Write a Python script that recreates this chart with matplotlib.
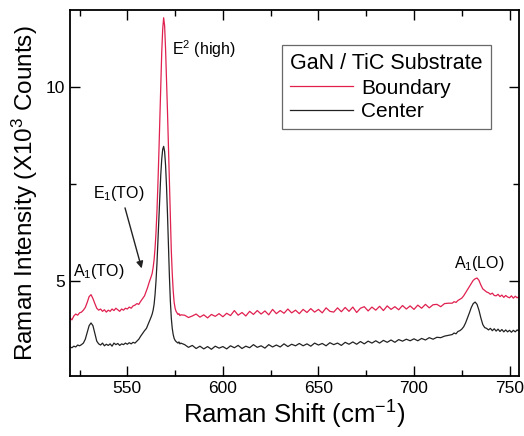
import numpy as np
import matplotlib
matplotlib.use('Agg')
import matplotlib.pyplot as plt
from matplotlib.ticker import MultipleLocator

plt.rcParams['font.family'] = ['Liberation Sans', 'DejaVu Sans']
plt.rcParams['mathtext.fontset'] = 'custom'
plt.rcParams['mathtext.rm'] = 'Liberation Sans'
plt.rcParams['mathtext.it'] = 'Liberation Sans:italic'
plt.rcParams['mathtext.bf'] = 'Liberation Sans:bold'

# Raman shift sampling (cm^-1): finer around the E2(high) peak
shift = np.concatenate([
    np.arange(520, 560, 1.0),      # 40 pts
    np.arange(560, 578.5, 0.5),    # 37 pts
    np.arange(580, 720, 2.0),      # 70 pts
    np.arange(720, 756, 1.0),      # 36 pts
])

# Boundary spectrum (x10^3 counts)
boundary_a = [4.05, 4.00, 4.10, 4.15, 4.12, 4.18, 4.20, 4.25, 4.32, 4.45,
              4.60, 4.65, 4.55, 4.42, 4.30, 4.25, 4.28, 4.22, 4.26, 4.20,
              4.25, 4.22, 4.28, 4.24, 4.30, 4.26, 4.22, 4.28, 4.25, 4.30,
              4.28, 4.33, 4.30, 4.36, 4.38, 4.42, 4.40, 4.48, 4.55, 4.62]
boundary_b = [4.75, 4.82, 4.90, 4.98, 5.05, 5.12, 5.20, 5.35, 5.55, 5.85,
              6.25, 6.80, 7.50, 8.30, 9.20, 10.10, 10.90, 11.50, 11.80, 11.60,
              11.00, 10.20, 9.40, 8.50, 7.50, 6.60, 5.80, 5.20, 4.75, 4.45,
              4.30, 4.22, 4.18, 4.14, 4.16, 4.11, 4.13]
boundary_c = [4.12, 4.06, 4.10, 4.15, 4.07, 4.13, 4.05, 4.14, 4.09, 4.16,
              4.08, 4.17, 4.11, 4.24, 4.12, 4.19, 4.10, 4.22, 4.14, 4.24,
              4.15, 4.23, 4.13, 4.27, 4.16, 4.24, 4.17, 4.28, 4.18, 4.25,
              4.16, 4.27, 4.19, 4.29, 4.20, 4.27, 4.18, 4.31, 4.22, 4.20,
              4.31, 4.21, 4.32, 4.22, 4.33, 4.19, 4.30, 4.34, 4.23, 4.33,
              4.25, 4.35, 4.24, 4.36, 4.27, 4.34, 4.26, 4.37, 4.28, 4.36,
              4.27, 4.38, 4.30, 4.40, 4.31, 4.39, 4.40, 4.34, 4.42, 4.43]
boundary_d = [4.43, 4.47, 4.45, 4.50, 4.53, 4.56, 4.62, 4.70, 4.78, 4.86,
              4.94, 5.02, 5.06, 5.08, 5.02, 4.90, 4.80, 4.76, 4.72, 4.70,
              4.66, 4.69, 4.63, 4.62, 4.66, 4.60, 4.64, 4.58, 4.63, 4.59,
              4.57, 4.62, 4.56, 4.61, 4.57, 4.60]

# Center spectrum (x10^3 counts)
center_a = [3.30, 3.28, 3.32, 3.30, 3.35, 3.33, 3.36, 3.40, 3.50, 3.68,
            3.85, 3.92, 3.85, 3.65, 3.45, 3.38, 3.35, 3.40, 3.33, 3.37,
            3.34, 3.38, 3.32, 3.40, 3.36, 3.39, 3.34, 3.38, 3.36, 3.40,
            3.37, 3.41, 3.38, 3.42, 3.40, 3.45, 3.50, 3.58, 3.65, 3.72]
center_b = [3.78, 3.84, 3.90, 3.96, 4.02, 4.08, 4.15, 4.25, 4.40, 4.65,
            5.00, 5.45, 6.00, 6.60, 7.20, 7.75, 8.15, 8.40, 8.48, 8.35,
            8.00, 7.45, 6.75, 5.95, 5.15, 4.50, 4.05, 3.78, 3.62, 3.52,
            3.47, 3.44, 3.42, 3.40, 3.43, 3.38, 3.40]
center_c = [3.36, 3.29, 3.34, 3.26, 3.32, 3.25, 3.31, 3.24, 3.32, 3.27,
            3.31, 3.25, 3.33, 3.28, 3.34, 3.26, 3.32, 3.28, 3.36, 3.29,
            3.33, 3.27, 3.36, 3.30, 3.35, 3.30, 3.38, 3.31, 3.37, 3.33,
            3.39, 3.33, 3.38, 3.32, 3.40, 3.35, 3.39, 3.33, 3.41, 3.36,
            3.40, 3.34, 3.42, 3.37, 3.43, 3.37, 3.44, 3.38, 3.45, 3.40,
            3.46, 3.40, 3.47, 3.42, 3.48, 3.42, 3.49, 3.45, 3.50, 3.46,
            3.51, 3.46, 3.52, 3.48, 3.54, 3.50, 3.55, 3.54, 3.58, 3.60]
center_d = [3.62, 3.66, 3.64, 3.70, 3.72, 3.76, 3.82, 3.92, 4.05, 4.18,
            4.32, 4.42, 4.46, 4.40, 4.25, 4.05, 3.88, 3.80, 3.78, 3.74,
            3.78, 3.72, 3.77, 3.71, 3.76, 3.70, 3.75, 3.69, 3.74, 3.69,
            3.73, 3.68, 3.73, 3.69, 3.74, 3.71]

boundary = np.array(boundary_a + boundary_b + boundary_c + boundary_d)
center = np.array(center_a + center_b + center_c + center_d)

fig = plt.figure(figsize=(5.24, 4.36), dpi=100)
ax = fig.add_axes([0.1336, 0.1376, 0.857, 0.8394])

ax.plot(shift, boundary, color='#e0204f', lw=0.9, label='Boundary')
ax.plot(shift, center, color='#222222', lw=0.9, label='Center')

ax.set_xlim(520, 755)
ax.set_ylim(2.55, 12.0)
ax.xaxis.set_major_locator(MultipleLocator(50))
ax.xaxis.set_minor_locator(MultipleLocator(25))
ax.yaxis.set_major_locator(MultipleLocator(5))
ax.yaxis.set_minor_locator(MultipleLocator(2.5))
ax.tick_params(which='both', direction='in', top=True, right=True, labelsize=12.5, width=1.0)
ax.tick_params(which='major', length=7)
ax.tick_params(which='minor', length=4)
for s in ax.spines.values():
    s.set_linewidth(1.3)

ax.set_xlabel('Raman Shift (cm$^{-1}$)', fontsize=18.5, labelpad=2)
ax.set_ylabel('Raman Intensity (X10$^3$ Counts)', fontsize=17.5, labelpad=4)

# peak labels
ax.text(573.6, 11.0, 'E$^2$ (high)', fontsize=11.5, va='center')
ax.text(532.0, 7.27, 'E$_1$(TO)', fontsize=11.5, va='center')
ax.annotate('', xy=(557.9, 5.26), xytext=(548.4, 6.96),
            arrowprops=dict(arrowstyle='-|>', color='#222222', lw=1.0, mutation_scale=10))
ax.text(521.7, 5.26, 'A$_1$(TO)', fontsize=11.5, va='center')
ax.text(721.0, 5.46, 'A$_1$(LO)', fontsize=11.5, va='center')

leg = ax.legend(title='GaN / TiC Substrate', loc='upper left', bbox_to_anchor=(0.472, 0.904),
                borderaxespad=0, fontsize=15, title_fontsize=15.5, alignment='left',
                fancybox=False, edgecolor='#444444', handlelength=3.0, handletextpad=0.4,
                labelspacing=0.2, borderpad=0.4)
leg.get_frame().set_linewidth(0.9)

fig.savefig('out.png', dpi=100)
